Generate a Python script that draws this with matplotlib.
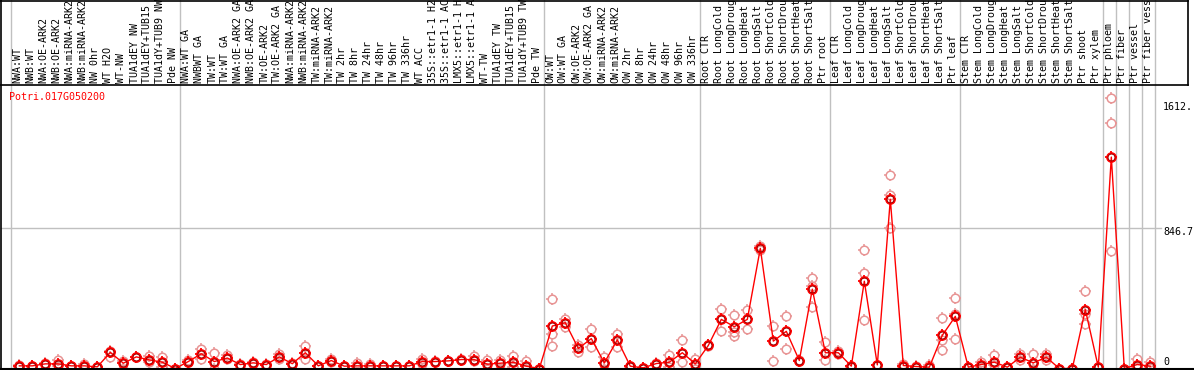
import matplotlib
matplotlib.use("Agg")
import matplotlib.pyplot as plt
from matplotlib.path import Path
from matplotlib.lines import Line2D
from matplotlib.transforms import blended_transform_factory
import numpy as np

gene = "Potri.017G050200"

labels = [
    "NWA:WT", "NWB:WT", "NWA:OE-ARK2", "NWB:OE-ARK2", "NWA:miRNA-ARK2", "NWB:miRNA-ARK2",
    "NW 0hr", "WT H2O", "WT-NW", "TUA1dEY NW", "TUA1dEY+TUB15 NW", "TUA1dY+TUB9 NW", "Pde NW",
    "NWA:WT GA", "NWBWT GA", "TW:WT", "TW:WT GA", "NWA:OE-ARK2 GA", "NWB:OE-ARK2 GA",
    "TW:OE-ARK2", "TW:OE-ARK2 GA", "NWA:miRNA-ARK2", "NWB:miRNA-ARK2", "TW:miRNA-ARK2",
    "TW:miRNA-ARK2", "TW 2hr", "TW 8hr", "TW 24hr", "TW 48hr", "TW 96hr", "TW 336hr", "WT ACC",
    "35S::etr1-1 H2O", "35S::etr1-1 ACC", "LMX5::etr1-1 H2O", "LMX5::etr1-1 ACC", "WT-TW",
    "TUA1dEY TW", "TUA1dEY+TUB15 TW", "TUA1dY+TUB9 TW", "Pde TW",
    "OW:WT", "OW:WT GA", "OW:OE-ARK2", "OW:OE-ARK2 GA", "OW:miRNA-ARK2", "OW:miRNA-ARK2",
    "OW 2hr", "OW 8hr", "OW 24hr", "OW 48hr", "OW 96hr", "OW 336hr",
    "Root CTR", "Root LongCold", "Root LongDrought", "Root LongHeat", "Root LongSalt",
    "Root ShortCold", "Root ShortDrought", "Root ShortHeat", "Root ShortSalt", "Ptr root",
    "Leaf CTR", "Leaf LongCold", "Leaf LongDrought", "Leaf LongHeat", "Leaf LongSalt",
    "Leaf ShortCold", "Leaf ShortDrought", "Leaf ShortHeat", "Leaf ShortSalt", "Ptr leaf",
    "Stem CTR", "Stem LongCold", "Stem LongDrought", "Stem LongHeat", "Stem LongSalt",
    "Stem ShortCold", "Stem ShortDrought", "Stem ShortHeat", "Stem ShortSalt", "Ptr shoot",
    "Ptr xylem", "Ptr phloem", "Ptr fiber", "Ptr vessel", "Ptr fiber vessel",
]

means = [
    16, 16, 28, 28, 16, 16, 10, 97, 32, 70, 52, 38, 0,
    42, 89, 42, 63, 24, 34, 24, 70, 29, 95, 16, 48, 14, 16, 16, 16, 16, 16, 42,
    42, 46, 54, 54, 26, 32, 38, 14, 0,
    256, 276, 121, 180, 34, 173, 14, 4, 30, 38, 95, 28,
    139, 296, 252, 296, 724, 165, 224, 48, 478, 95,
    95, 14, 526, 22, 1020, 18, 12, 8, 200, 314,
    8, 24, 38, 8, 68, 34, 68, 0, 0, 355, 8, 1274, 0, 24, 14,
]

replicates = [
    [10, 20], [12, 18], [25, 32], [54, 17], [14, 18], [28, 12], [8, 12], [108, 70], [45, 0],
    [68, 72], [75, 40], [72, 10], [0, 0],
    [50, 38], [117, 60], [93, 0], [80, 55], [22, 26], [30, 38], [20, 28], [90, 55], [26, 32],
    [133, 55], [14, 18], [60, 38], [12, 16], [36, 10], [30, 10], [14, 18], [14, 18], [14, 18],
    [60, 30], [40, 44], [44, 48], [52, 56], [75, 46], [52, 0], [52, 0], [75, 10], [46, 0], [0, 0],
    [421, 210, 135], [296, 250], [140, 100], [236, 129], [68, 0], [210, 129], [10, 18], [2, 6],
    [28, 32], [79, 10], [169, 40], [58, 0],
    [135, 142], [361, 224], [325, 220, 195], [351, 240], [740, 715], [258, 48], [319, 119],
    [45, 50], [548, 500, 371], [159, 50],
    [108, 90], [12, 16], [714, 576, 290], [20, 24], [1167, 1046, 849], [30, 10], [10, 14],
    [20, 4], [306, 169, 113], [427, 330, 179],
    [6, 10], [40, 10], [79, 20], [6, 10], [89, 50], [85, 0], [89, 50], [0, 0], [0, 0],
    [466, 330, 266], [6, 10], [1631, 1480, 706], [0, 0], [56, 10], [41, 5],
]

group_bounds = [0, 13, 41, 53, 63, 73, 84, 85, 86, 87, 88]
grid_value = 846.7
top_label = "1612."
mid_label = "846.7"

# ---------- layout helpers (pixels) ----------
W, H = 1194, 370
def fx(px):
    return px / W
def fy(py):
    return 1 - py / H

fig = plt.figure(figsize=(W / 100, H / 100), dpi=100)
fig.patch.set_facecolor("white")

plot_left, plot_right, plot_top, plot_bottom = 1, 1155, 85, 368.5
ax = fig.add_axes([fx(plot_left), fy(plot_bottom), fx(plot_right) - fx(plot_left),
                   fy(plot_top) - fy(plot_bottom)])
ncol = len(labels)
col_px = 13.0
first_px = 11.0
ax.set_xlim(-(first_px - plot_left) / col_px, ncol)
scale = grid_value / (plot_bottom - 228)
ax.set_ylim(0, (plot_bottom - plot_top) * scale)
for s in ax.spines.values():
    s.set_visible(False)
ax.set_xticks([])
ax.set_yticks([])
ax.patch.set_alpha(0)

mono = "DejaVu Sans Mono"
fsz = 7.2

# tick-only marker (four short outward ticks), used together with an 'o' circle
verts, codes = [], []
for dx, dy in [(0, 1), (0, -1), (1, 0), (-1, 0)]:
    verts += [[dx * 0.72, dy * 0.72], [dx, dy]]
    codes += [Path.MOVETO, Path.LINETO]
tick_marker = Path(verts, codes)

xoff = 0.64
xs = np.arange(ncol) + xoff

circ_size = 6.2
tick_size = 8.6

# grid line
ax.axhline(grid_value, color="#c0c0c0", lw=1, zorder=1, xmax=1.005, clip_on=False)

# group separators (span full figure height)
btr = blended_transform_factory(ax.transData, fig.transFigure)
for b in group_bounds:
    fig.add_artist(Line2D([b, b], [fy(plot_bottom), 1], transform=btr,
                          color="#c0c0c0", lw=1, zorder=0))

# replicates
rep_color = "#e89494"
for i, reps in enumerate(replicates):
    xr = [xs[i]] * len(reps)
    ax.plot(xr, reps, linestyle="none", marker="o", markersize=circ_size,
            markerfacecolor="none", markeredgecolor=rep_color, markeredgewidth=1.1,
            clip_on=False, zorder=2)
    ax.plot(xr, reps, linestyle="none", marker=tick_marker, markersize=tick_size,
            markeredgecolor=rep_color, markeredgewidth=1.1, clip_on=False, zorder=2)

# mean line and markers
ax.plot(xs, means, color="#ff0000", lw=1.0, zorder=3, clip_on=False)
ax.plot(xs, means, linestyle="none", marker="o", markersize=circ_size,
        markerfacecolor="none", markeredgecolor="#ff0000", markeredgewidth=1.5,
        clip_on=False, zorder=4)
ax.plot(xs, means, linestyle="none", marker=tick_marker, markersize=tick_size,
        markeredgecolor="#ff0000", markeredgewidth=1.3, clip_on=False, zorder=4)
ax.plot(xs, means, linestyle="none", marker="o", markersize=5.0,
        markerfacecolor="none", markeredgecolor="#8a0000", markeredgewidth=0.6,
        clip_on=False, zorder=5)

# column labels (vertical)
for i, lab in enumerate(labels):
    fig.add_artist(plt.Text(i + 0.5, fy(83), lab, rotation=90, ha="center", va="bottom",
                            family=mono, fontsize=fsz, color="black", transform=btr))

# gene name
fig.text(fx(9), fy(97), gene, ha="left", va="center", family=mono, fontsize=fsz,
         color="#ff0000")

# right-side value labels
fig.text(fx(1163), fy(107), top_label, ha="left", va="center", family=mono, fontsize=fsz)
fig.text(fx(1163), fy(232), mid_label, ha="left", va="center", family=mono, fontsize=fsz)
fig.text(fx(1163), fy(362), "0", ha="left", va="center", family=mono, fontsize=fsz)

# frame lines
def fline(x0, y0, x1, y1, lw=1.2):
    fig.add_artist(Line2D([fx(x0), fx(x1)], [fy(y0), fy(y1)], transform=fig.transFigure,
                          color="black", lw=lw, zorder=6))

fline(0, 85, 1188, 85)
fline(1188, 0, 1188, 85)
fline(0, 0.5, 1188, 0.5)
fline(1, 0, 1, 370)
fline(0, 368.5, 1194, 368.5, lw=1.5)

fig.savefig("out.png", dpi=100)
